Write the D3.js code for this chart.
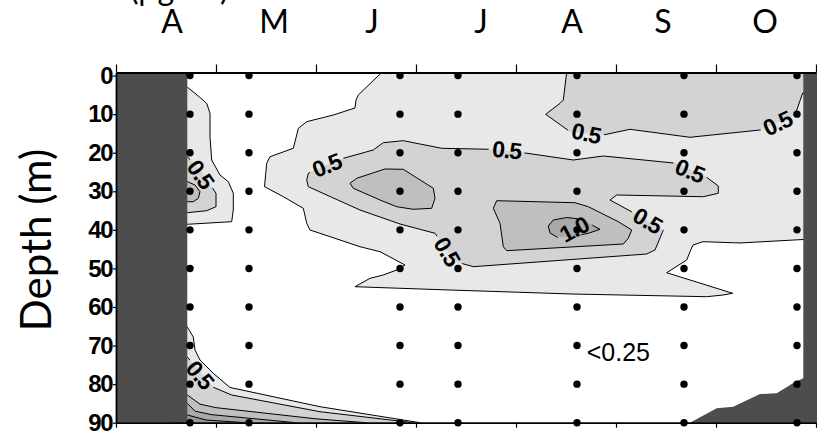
<!DOCTYPE html>
<html>
<head>
<meta charset="utf-8">
<script src="https://cdn.jsdelivr.net/npm/d3@7/dist/d3.min.js"></script>
<style>
  html, body { margin: 0; padding: 0; background: #fff; }
  svg { display: block; }
</style>
</head>
<body>
<svg id="chart" width="817" height="433"></svg>
<script>
// Time axis in months from 1 April (0) to 1 November (7); depth in metres.
const months = ["A", "M", "J", "J", "A", "S", "O"];
const monthLabelAt = [0.56, 1.58, 2.56, 3.65, 4.56, 5.47, 6.49];
const monthTicks = [0, 1, 2, 3, 4, 5, 6, 7];
const depthTicks = [0, 10, 20, 30, 40, 50, 60, 70, 80, 90];

// Sampling dates (months since 1 April) and sampled depths.
const sampleTimes = [0.74, 1.33, 2.84, 3.42, 4.61, 5.68, 6.81];
const sampleDepths = [0, 10, 20, 30, 40, 50, 60, 70, 80, 90];

// Contour bands as [month, depth] outlines.
const band025Main = [[2.657,-0.8],[2.423,5.03],[2.40,6.33],[2.39,8.40],[2.173,10.22],[1.907,11.96],[1.823,13.67],[1.807,15.41],[1.773,18.85],[1.54,21.03],[1.507,22.74],[1.485,28.81],[1.673,31.40],[1.873,34.41],[1.907,38.30],[1.94,40.03],[2.24,42.63],[2.44,44.37],[2.64,45.66],[2.89,49.11],[2.807,50.41],[2.673,51.70],[2.54,52.56],[2.39,54.74],[3.34,55.60],[4.57,56.64],[5.907,57.33],[6.07,56.89],[6.167,56.45],[5.507,51.11],[5.707,47.82],[5.74,45.66],[5.77,43.92],[5.87,43.07],[6.24,43.40],[6.87,42.50],[7.1,42.5],[7.1,-2],[2.657,-2]];
const band025Left = [[0.6,3.03],[0.713,3.03],[0.79,4.59],[0.907,7.19],[0.94,9.78],[0.94,15.85],[0.957,21.89],[1.04,25.78],[1.123,27.51],[1.173,30.52],[1.173,34.85],[1.157,37.88],[0.713,38.56],[0.6,38.56]];
const band025Bottom = [[0.6,65.19],[0.713,65.19],[0.773,67.79],[0.79,71.15],[0.84,73.75],[0.973,77.19],[1.14,80.87],[2.04,85.85],[3.04,90],[3.04,92],[0.6,92]];
const band050Top = [[4.507,-2],[4.507,-0.8],[4.473,6.33],[4.44,7.19],[4.297,10.04],[4.54,14.55],[4.873,15.40],[5.14,13.93],[5.74,16.0],[6.44,14.11],[6.79,10.22],[6.867,4.52],[7.1,4.52],[7.1,-2]];
const band050Mid = [[1.907,27.07],[1.923,25.33],[2.107,23.18],[2.273,21.45],[2.573,19.29],[2.673,17.40],[2.873,16.88],[3.257,18.85],[3.74,19.11],[4.073,20.0],[4.573,21.89],[4.873,20.85],[5.607,22.74],[5.907,26.37],[6.023,28.63],[6.023,30.52],[5.873,31.40],[5.007,30.96],[4.94,32.26],[5.173,35.55],[5.473,40.04],[5.39,45.22],[5.307,46.26],[3.573,49.55],[3.407,48.33],[3.307,45.22],[3.19,40.89],[2.84,38.48],[2.44,34.85],[1.923,28.81]];
const band050Left = [[0.6,21.0],[0.713,21.0],[0.87,25.5],[0.957,28.81],[1.0,30.52],[1.0,34.0],[0.907,35.03],[0.713,35.55],[0.6,35.55]];
const band050Bottom = [[0.6,72.97],[0.713,72.97],[0.84,76.86],[0.973,80.82],[1.157,82.82],[2.04,87.15],[2.973,90],[2.973,92],[0.6,92]];
const band075West = [[2.34,27.93],[2.407,26.63],[2.69,24.22],[2.873,24.30],[3.173,29.22],[3.19,31.82],[3.157,34.41],[2.973,34.67],[2.807,34.0],[2.64,32.26],[2.373,29.22]];
const band075Centre = [[3.807,32.44],[3.773,34.41],[3.84,38.30],[3.873,44.37],[3.907,45.40],[5.073,43.67],[5.123,42.19],[5.157,40.04],[5.023,37.88],[4.723,33.99],[4.59,32.96]];
const band075Left = [[0.6,27.5],[0.713,27.5],[0.79,28.37],[0.84,30.1],[0.823,31.82],[0.773,32.7],[0.713,32.7],[0.6,32.7]];
const band075Bottom = [[0.6,82.8],[0.713,82.8],[0.84,85.2],[1.0,86.1],[2.0,89.0],[2.5,90],[2.5,92],[0.6,92]];
const band100Centre = [[4.323,39.0],[4.373,37.44],[4.507,36.80],[4.64,37.18],[4.74,38.48],[4.84,39.86],[4.723,40.89],[4.59,41.59],[4.413,41.93],[4.34,40.81]];
const band100Bottom = [[0.6,85.0],[0.713,85.0],[0.79,87.0],[0.95,87.9],[1.8,90],[1.8,92],[0.6,92]];
const band125Bottom = [[0.6,88.0],[0.713,88.0],[0.9,89.3],[1.3,90],[1.3,92],[0.6,92]];

// Periods without data (ice cover) drawn in dark grey.
const iceLeft = [[0,-2],[0.713,-2],[0.713,92],[0,92]];
const iceRight = [[6.873,-2],[7.1,-2],[7.1,92],[5.74,92],[5.74,90],[6.007,86.27],[6.173,85.85],[6.44,82.56],[6.607,82.38],[6.79,79.45],[6.873,78.49]];

// Contour labels: text, position [month, depth], rotation in degrees.
const contourLabels = [
  {text: "0.5", m: 0.845, d: 25.6, a: 55},
  {text: "0.5", m: 2.107, d: 23.3, a: -22},
  {text: "0.5", m: 3.907, d: 19.3, a: 6},
  {text: "0.5", m: 4.70, d: 14.95, a: 12},
  {text: "0.5", m: 6.615, d: 12.4, a: -25},
  {text: "0.5", m: 5.737, d: 24.7, a: 22},
  {text: "0.5", m: 5.315, d: 37.6, a: 30},
  {text: "0.5", m: 3.31, d: 45.6, a: 60},
  {text: "0.5", m: 0.84, d: 77.6, a: 50},
  {text: "1.0", m: 4.58, d: 39.9, a: -28}
];
const lowNote = {text: "<0.25", m: 4.707, d: 73.9};

const svg = d3.select("#chart");
const x = d3.scaleLinear().domain([0, 7]).range([116, 816]);
const y = d3.scaleLinear().domain([-0.8, 90]).range([72.5, 422.7]);

const outline = d3.line().x(p => x(p[0])).y(p => y(p[1])).curve(d3.curveLinearClosed);

const defs = svg.append("defs");
defs.append("clipPath").attr("id", "plot")
  .append("rect")
  .attr("x", x(0)).attr("y", y(-0.8))
  .attr("width", 817 - x(0)).attr("height", y(90) - y(-0.8));

// Mask that opens gaps in contour lines under their labels.
const gapMask = defs.append("mask").attr("id", "gaps").attr("maskUnits", "userSpaceOnUse")
  .attr("x", 0).attr("y", 0).attr("width", 817).attr("height", 433);
gapMask.append("rect").attr("x", 0).attr("y", 0).attr("width", 817).attr("height", 433).attr("fill", "#fff");
gapMask.selectAll("rect.gap").data(contourLabels).join("rect")
  .attr("class", "gap")
  .attr("x", -18).attr("y", -8).attr("width", 36).attr("height", 16)
  .attr("fill", "#000")
  .attr("transform", l => `translate(${x(l.m)},${y(l.d)}) rotate(${l.a})`);

const bands = [
  {pts: band025Main, fill: "#e8e8e8"},
  {pts: band025Left, fill: "#e8e8e8"},
  {pts: band025Bottom, fill: "#e8e8e8"},
  {pts: band050Top, fill: "#d3d3d3"},
  {pts: band050Mid, fill: "#d3d3d3"},
  {pts: band050Left, fill: "#d3d3d3"},
  {pts: band050Bottom, fill: "#d3d3d3"},
  {pts: band075West, fill: "#bfbfbf"},
  {pts: band075Centre, fill: "#bfbfbf"},
  {pts: band075Left, fill: "#bfbfbf"},
  {pts: band075Bottom, fill: "#bfbfbf"},
  {pts: band100Centre, fill: "#a9a9a9"},
  {pts: band100Bottom, fill: "#a9a9a9"},
  {pts: band125Bottom, fill: "#969696"}
];

const plot = svg.append("g").attr("clip-path", "url(#plot)");
plot.append("g").selectAll("path").data(bands).join("path")
  .attr("d", b => outline(b.pts))
  .attr("fill", b => b.fill);

plot.append("g").attr("mask", "url(#gaps)")
  .selectAll("path").data(bands).join("path")
  .attr("d", b => outline(b.pts))
  .attr("fill", "none")
  .attr("stroke", "#000")
  .attr("stroke-width", 1)
  .attr("stroke-linejoin", "round");

plot.append("g").selectAll("path").data([iceLeft, iceRight]).join("path")
  .attr("d", outline)
  .attr("fill", "#4d4d4d");

// Sampling points.
const samples = sampleTimes.flatMap(t => sampleDepths.map(d => [t, d]));
svg.append("g").selectAll("circle").data(samples).join("circle")
  .attr("cx", p => x(p[0])).attr("cy", p => y(p[1])).attr("r", 3.7)
  .attr("fill", "#000");

// Contour labels.
svg.append("g").selectAll("text").data(contourLabels).join("text")
  .attr("transform", l => `translate(${x(l.m)},${y(l.d)}) rotate(${l.a})`)
  .attr("text-anchor", "middle")
  .attr("dominant-baseline", "central")
  .attr("font-family", "'Liberation Sans', Arial, sans-serif")
  .attr("font-weight", "bold")
  .attr("font-size", 23)
  .attr("letter-spacing", -1)
  .attr("fill", "#000")
  .text(l => l.text);

svg.append("text")
  .attr("x", x(lowNote.m)).attr("y", y(lowNote.d))
  .attr("font-family", "'Liberation Sans', Arial, sans-serif")
  .attr("font-size", 25)
  .attr("fill", "#000")
  .text(lowNote.text);

// Axes.
const axisStyle = g => {
  g.selectAll("path.domain").attr("stroke", "#000").attr("stroke-width", 1.8);
  g.selectAll(".tick line").attr("stroke", "#000").attr("stroke-width", 1.2);
};
svg.append("g").attr("transform", `translate(0,${y(-0.8)})`)
  .call(d3.axisTop(x).tickValues(monthTicks).tickSize(8).tickSizeOuter(0).tickFormat(""))
  .call(axisStyle);
svg.append("g").attr("transform", `translate(0,${y(90)})`)
  .call(d3.axisBottom(x).tickValues(monthTicks).tickSize(5).tickSizeOuter(0).tickFormat(""))
  .call(axisStyle);
const yAxis = svg.append("g").attr("transform", `translate(${x(0)},0)`)
  .call(d3.axisLeft(y).tickValues(depthTicks).tickSize(3).tickPadding(1).tickSizeOuter(0))
  .call(axisStyle);
yAxis.selectAll(".tick text")
  .attr("font-family", "'Liberation Sans', Arial, sans-serif")
  .attr("font-weight", "bold")
  .attr("font-size", 24)
  .attr("letter-spacing", -1.5)
  .attr("fill", "#000");

// Month labels along the top.
svg.append("g").selectAll("text").data(months).join("text")
  .attr("x", (m, i) => x(monthLabelAt[i]))
  .attr("y", 33)
  .attr("text-anchor", "middle")
  .attr("font-family", "Lato, 'Open Sans', sans-serif")
  .attr("font-size", 32)
  .attr("fill", "#000")
  .text(m => m);

// Units, mostly above the visible area.
svg.append("text")
  .attr("x", 130).attr("y", 0)
  .attr("font-family", "Lato, 'Open Sans', sans-serif")
  .attr("font-size", 32)
  .attr("fill", "#000")
  .text("(μg L⁻¹)");

// Depth axis title.
svg.append("text")
  .attr("transform", `translate(51,${240}) rotate(-90)`)
  .attr("text-anchor", "middle")
  .attr("font-family", "Lato, 'Open Sans', sans-serif")
  .attr("font-size", 42)
  .attr("fill", "#000")
  .text("Depth (m)");
</script>
</body>
</html>
